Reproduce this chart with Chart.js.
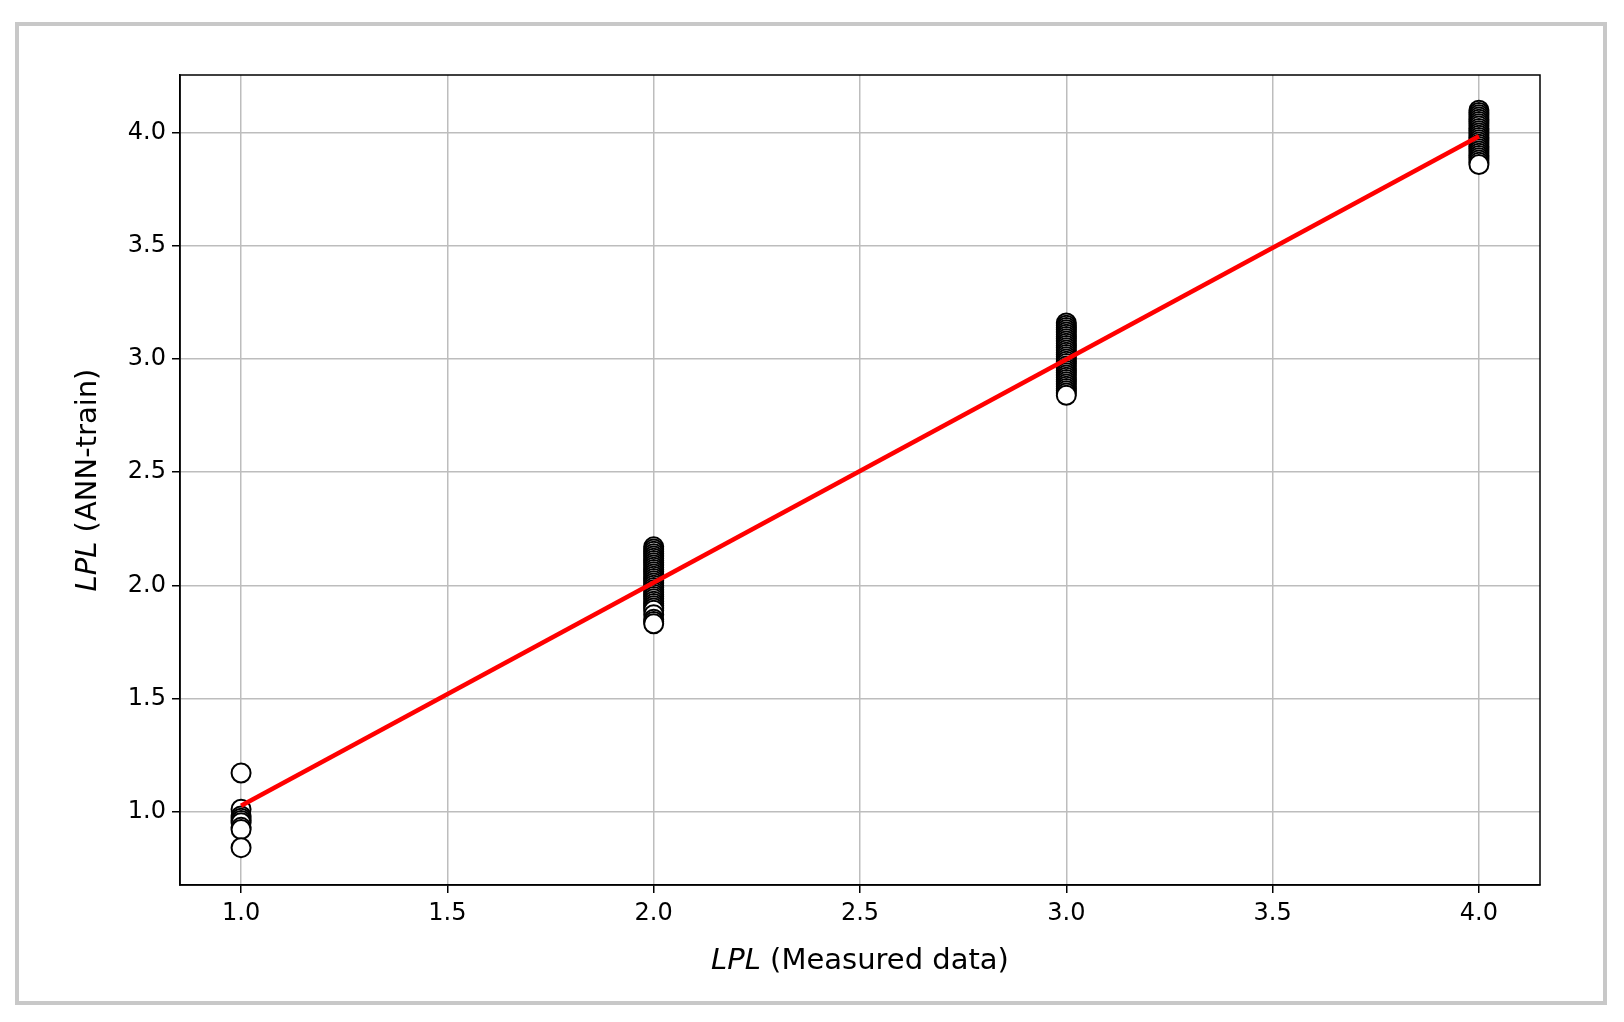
<!DOCTYPE html>
<html>
<head>
<meta charset="utf-8">
<script src="https://cdn.jsdelivr.net/npm/chart.js@4.4.1/dist/chart.umd.min.js"></script>
<style>
  html, body { margin: 0; padding: 0; background: #fff; }
  #frame { position: absolute; left: 15px; top: 22px; width: 1584px; height: 975px; border: 4px solid #c8c8c8; }
  #wrap { position: absolute; left: 0; top: 0; width: 1624px; height: 1022px; }
</style>
</head>
<body>
<div id="frame"></div>
<div id="wrap"><canvas id="chart"></canvas></div>
<script>
// Measured vs. predicted LPL values
const measured1 = [1, 1, 1, 1, 1, 1, 1, 1, 1];
const predicted1 = [1.17, 1.01, 0.98, 0.97, 0.96, 0.95, 0.93, 0.92, 0.84];
const predicted2 = [2.17, 2.16, 2.15, 2.14, 2.13, 2.12, 2.11, 2.1, 2.09, 2.08, 2.07, 2.06, 2.05, 2.04, 2.03, 2.02, 2.01, 2.0, 1.99, 1.98, 1.97, 1.96, 1.95, 1.94, 1.93, 1.92, 1.91, 1.9, 1.89, 1.87, 1.85, 1.84, 1.83];
const predicted3 = [3.16, 3.15, 3.14, 3.13, 3.12, 3.11, 3.1, 3.09, 3.08, 3.07, 3.06, 3.05, 3.04, 3.03, 3.02, 3.01, 3.0, 2.99, 2.98, 2.97, 2.96, 2.95, 2.94, 2.93, 2.92, 2.91, 2.9, 2.89, 2.88, 2.87, 2.86, 2.85, 2.84];
const predicted4 = [4.1, 4.09, 4.08, 4.07, 4.06, 4.05, 4.04, 4.03, 4.02, 4.01, 4.0, 3.99, 3.98, 3.97, 3.96, 3.95, 3.94, 3.93, 3.92, 3.91, 3.9, 3.89, 3.88, 3.87, 3.86];
const fitX = [1.0, 4.0];
const fitY = [1.025, 3.985];
const tickValues = [1.0, 1.5, 2.0, 2.5, 3.0, 3.5, 4.0];

const scatterData = [];
measured1.forEach((x, i) => scatterData.push({ x: x, y: predicted1[i] }));
predicted2.forEach(y => scatterData.push({ x: 2, y: y }));
predicted3.forEach(y => scatterData.push({ x: 3, y: y }));
predicted4.forEach(y => scatterData.push({ x: 4, y: y }));

const FONT = '"DejaVu Sans", sans-serif';
const TITLE_SIZE = 29;

// axis titles with italic "LPL"
function drawTitle(ctx, main, cx, cy) {
    ctx.font = 'italic ' + TITLE_SIZE + 'px ' + FONT;
    const w1 = ctx.measureText('LPL').width;
    ctx.font = TITLE_SIZE + 'px ' + FONT;
    const w2 = ctx.measureText(main).width;
    const sx = cx - (w1 + w2) / 2;
    ctx.font = 'italic ' + TITLE_SIZE + 'px ' + FONT;
    ctx.fillText('LPL', sx, cy);
    ctx.font = TITLE_SIZE + 'px ' + FONT;
    ctx.fillText(main, sx + w1, cy);
}

const titlePlugin = {
    id: 'axisTitles',
    afterDraw(chart) {
        const ctx = chart.ctx;
        const a = chart.chartArea;
        ctx.save();
        ctx.fillStyle = '#000';
        ctx.textBaseline = 'middle';
        ctx.textAlign = 'left';
        drawTitle(ctx, ' (Measured data)', (a.left + a.right) / 2, 961);
        ctx.translate(88, (a.top + a.bottom) / 2);
        ctx.rotate(-Math.PI / 2);
        drawTitle(ctx, ' (ANN-train)', 0, 0);
        ctx.restore();
        // plot frame
        ctx.save();
        ctx.strokeStyle = '#000';
        ctx.lineWidth = 1.5;
        ctx.strokeRect(a.left, a.top, a.right - a.left, a.bottom - a.top);
        ctx.restore();
    }
};

const axisCommon = {
    type: 'linear',
    afterBuildTicks: s => { s.ticks = tickValues.map(v => ({ value: v })); },
    grid: { color: '#bdbdbd', lineWidth: 1.5, tickLength: 8, tickColor: '#000' },
    border: { color: '#000', width: 1.5 },
    ticks: { color: '#000', font: { family: FONT, size: 24 }, padding: 6, callback: v => v.toFixed(1) }
};

new Chart(document.getElementById('chart'), {
    type: 'scatter',
    data: {
        datasets: [{
            type: 'line',
            data: fitX.map((x, i) => ({ x: x, y: fitY[i] })),
            borderColor: '#ff0000',
            borderWidth: 4.5,
            pointRadius: 0,
            order: 0
        }, {
            data: scatterData,
            pointRadius: 9.5,
            pointBorderWidth: 2,
            pointBorderColor: '#000',
            pointBackgroundColor: '#fff',
            order: 1
        }]
    },
    options: {
        responsive: true,
        maintainAspectRatio: false,
        animation: false,
        layout: { padding: { left: 62, right: 84, top: 75, bottom: 33 } },
        plugins: { legend: { display: false }, tooltip: { enabled: false } },
        scales: {
            x: Object.assign({}, axisCommon, { min: 0.852, max: 4.148, afterFit: s => { s.height = 104; } }),
            y: Object.assign({}, axisCommon, { min: 0.675, max: 4.256, afterFit: s => { s.width = 118; } })
        }
    },
    plugins: [titlePlugin]
});
</script>
</body>
</html>
